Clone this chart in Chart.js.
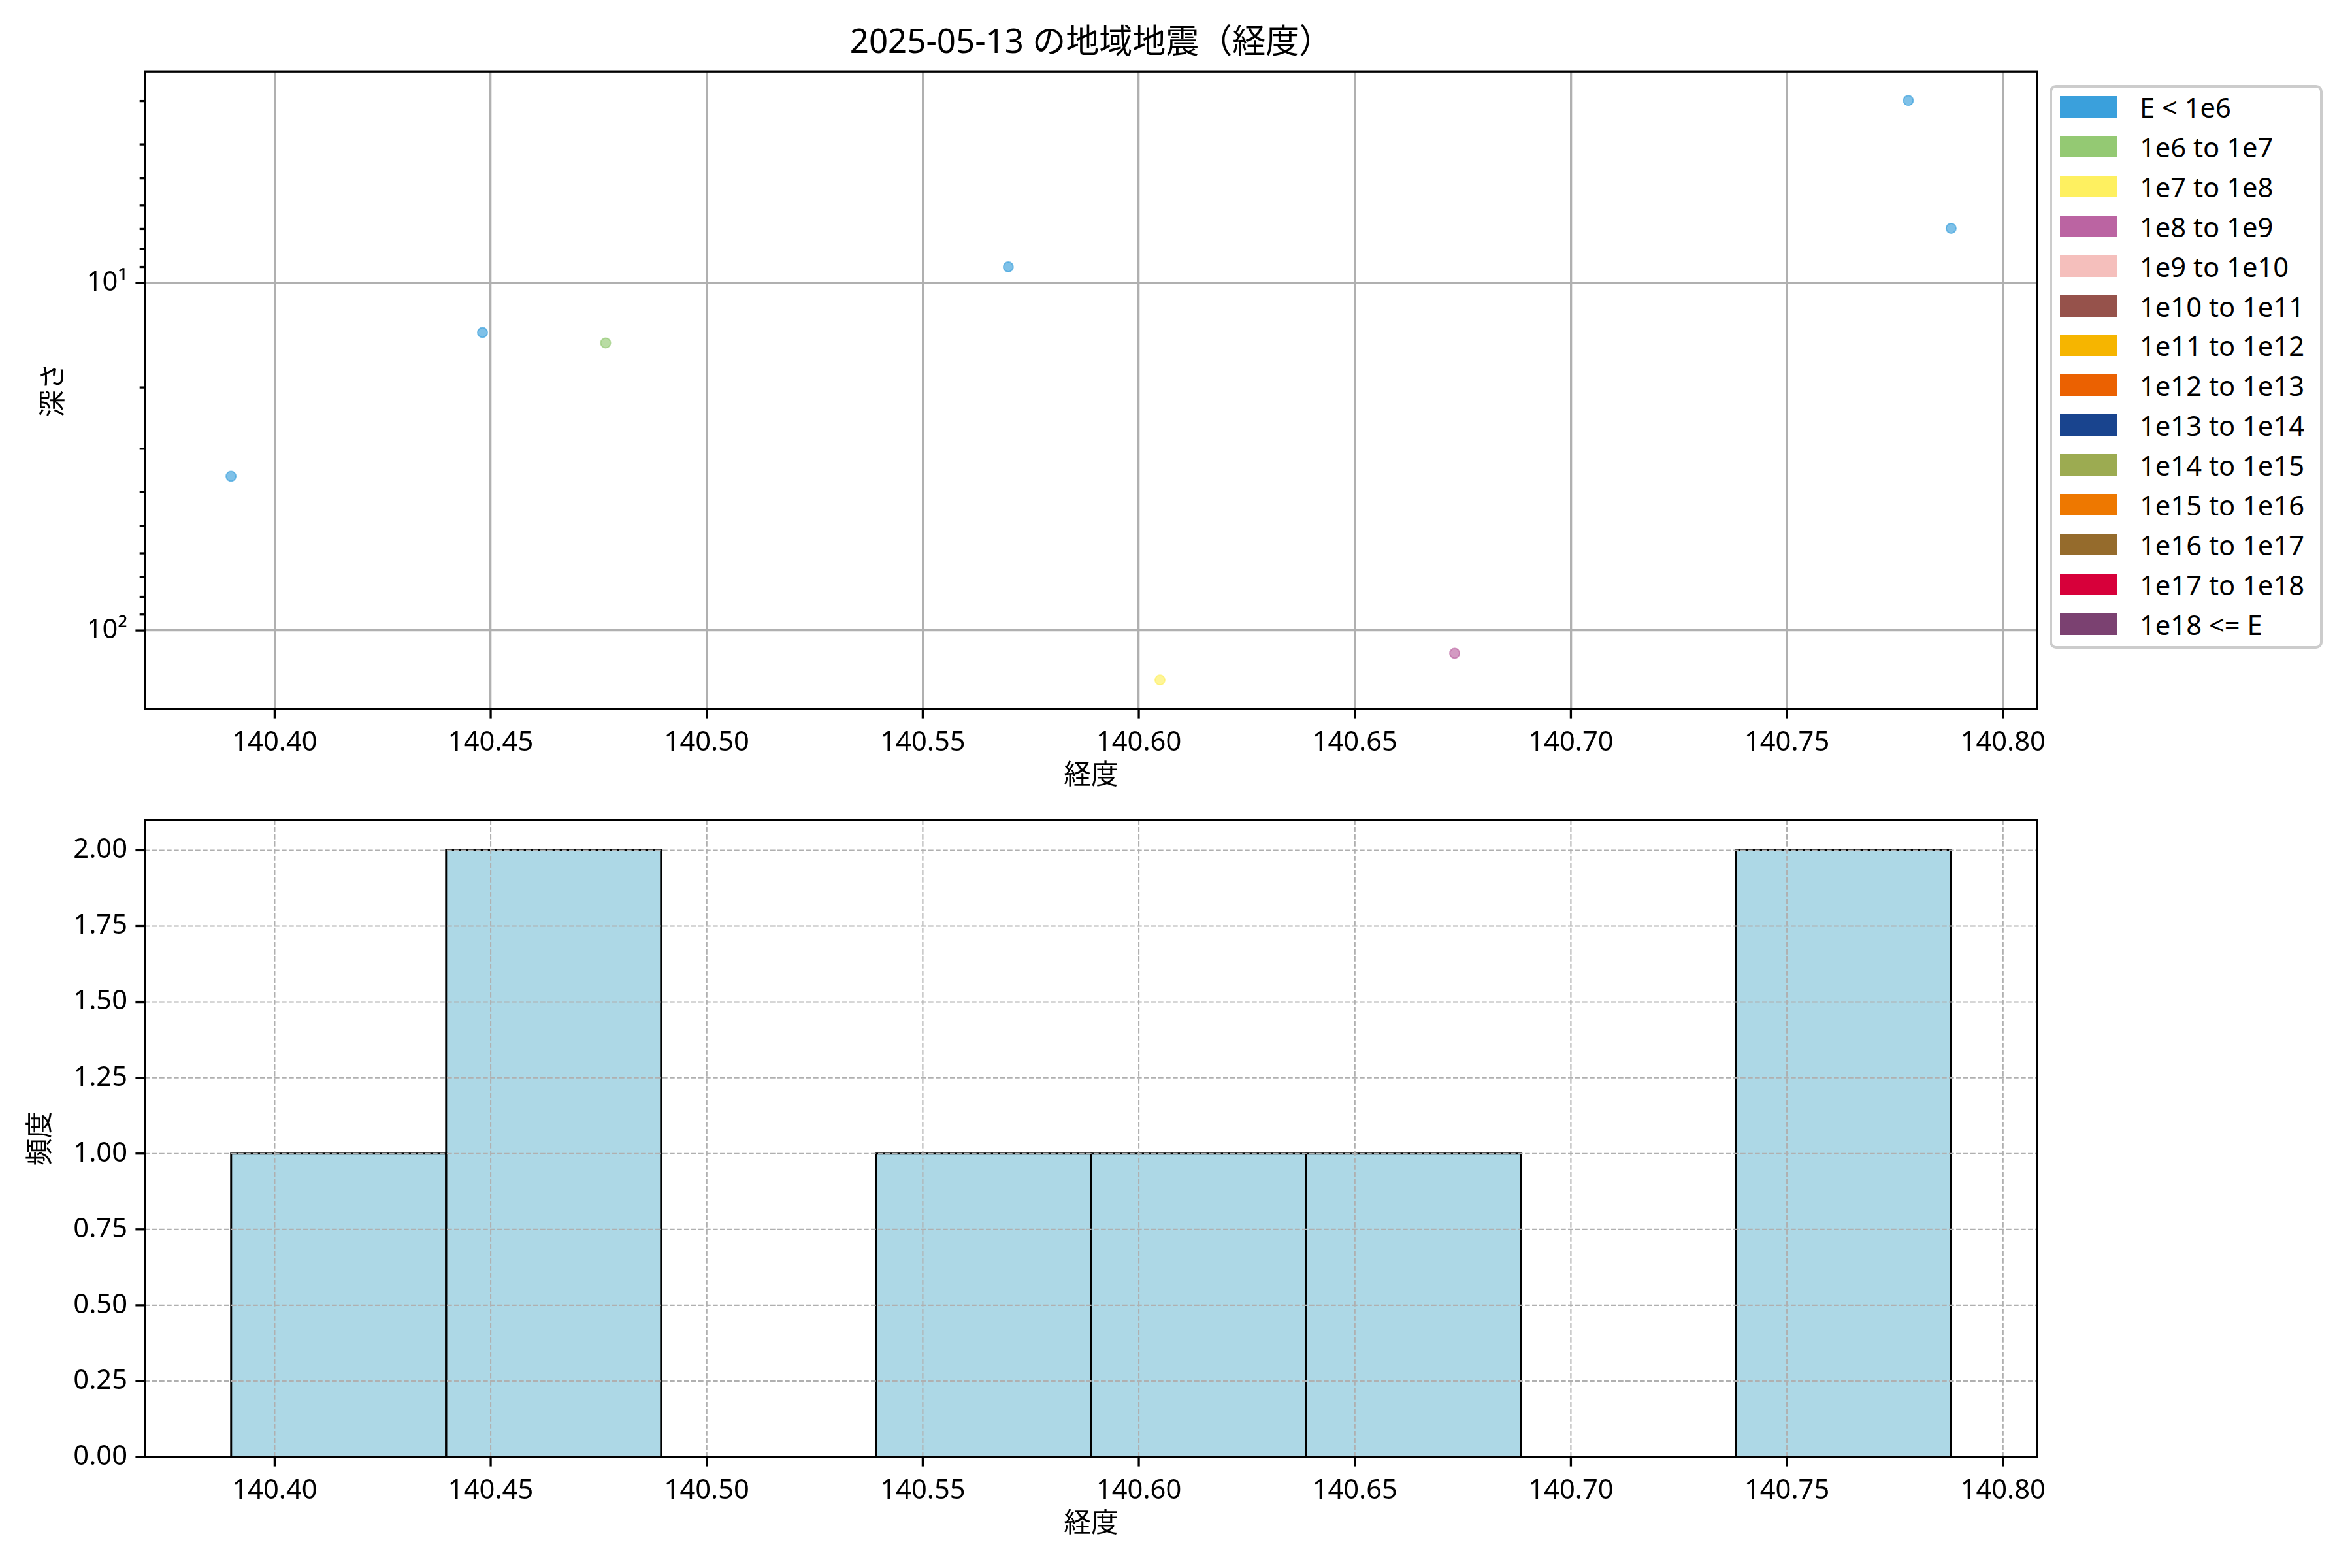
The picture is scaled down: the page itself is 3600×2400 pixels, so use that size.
<!DOCTYPE html>
<html><head><meta charset="utf-8">
<script src="https://cdn.jsdelivr.net/npm/chart.js@4/dist/chart.umd.min.js"></script>
<style>
html,body{margin:0;padding:0;background:#fff;}
body{width:3600px;height:2400px;position:relative;overflow:hidden;font-family:"Noto Sans","Noto Sans CJK JP",sans-serif;}
canvas{position:absolute;left:0;}
#c1{top:0;}
#c2{top:1200px;}
#legend{position:absolute;left:3137px;top:130px;width:418px;height:863px;border:4px solid #cccccc;border-radius:10px;box-sizing:border-box;background:#fff;z-index:5;}
.patch{position:absolute;left:12px;width:87px;height:33px;}
.lab{position:absolute;left:134px;height:33px;line-height:33px;font-size:41.7px;color:#000;white-space:nowrap;}
</style>
</head><body>
<canvas id="c1" width="3600" height="1255"></canvas>
<canvas id="c2" width="3600" height="1200"></canvas>
<div id="legend"></div>
<script>
// ---- data ----
const titleText = '2025-05-13 の地域地震（経度）';
const lon = [140.3899, 140.4481, 140.4766, 140.5698, 140.6049, 140.6731, 140.7781, 140.7880];
const depth = [36.0, 13.9, 14.9, 9.0, 138.7, 116.3, 2.99, 6.97];
const energyClass = [0, 0, 1, 0, 2, 3, 0, 0];
const classLabels = ['E < 1e6','1e6 to 1e7','1e7 to 1e8','1e8 to 1e9','1e9 to 1e10','1e10 to 1e11','1e11 to 1e12','1e12 to 1e13','1e13 to 1e14','1e14 to 1e15','1e15 to 1e16','1e16 to 1e17','1e17 to 1e18','1e18 <= E'];
const classColors = ['#3aa0dc','#94c973','#fef060','#bb64a2','#f5bfbc','#96524b','#f6b500','#eb6101','#19448e','#9cab51','#ee7800','#956b2c','#d7003a','#7b4171'];
const binEdges = [140.3899, 140.4397, 140.4894, 140.5392, 140.5890, 140.6387, 140.6885, 140.7382, 140.7880];
const binCounts = [1, 2, 0, 1, 1, 1, 0, 2];
const xTicks = [140.40, 140.45, 140.50, 140.55, 140.60, 140.65, 140.70, 140.75, 140.80];
const depthMajorTicks = [10, 100];
const depthMinorTicks = [3, 4, 5, 6, 7, 8, 9, 20, 30, 40, 50, 60, 70, 80, 90];
const freqTicks = [0, 0.25, 0.5, 0.75, 1.0, 1.25, 1.5, 1.75, 2.0];
const xLabel = '経度', depthLabel = '深さ', freqLabel = '頻度';
const xRange = [140.3700, 140.8079];
const depthRange = [2.465, 168.0];
const freqRange = [0, 2.1];

// ---- style ----
const FONT = '"Noto Sans", "Noto Sans CJK JP", sans-serif';
const FS = 41.7;
Chart.defaults.color = '#000';
Chart.defaults.font.family = FONT;
Chart.defaults.font.size = FS;
const TICK_MAJOR = 14.6, TICK_MINOR = 8.3, LW = 3.3;

function rgba(hex, a) {
  const n = parseInt(hex.slice(1), 16);
  return `rgba(${(n>>16)&255},${(n>>8)&255},${n&255},${a})`;
}

function makeDecor(isHist) {
  return {
    id: 'decor',
    afterDatasetsDraw(chart) {
      const ctx = chart.ctx, a = chart.chartArea;
      const xs = chart.scales.x, ys = chart.scales.y;
      ctx.save();
      if (isHist) {
        // bar edges, centred on the bin boundaries
        ctx.strokeStyle = '#000';
        ctx.lineWidth = 3;
        chart.getDatasetMeta(0).data.forEach(el => {
          const p = el.getProps(['x', 'y', 'base', 'width'], true);
          const l = p.x - p.width / 2, r = p.x + p.width / 2;
          ctx.strokeRect(l, Math.min(p.y, p.base), r - l, Math.abs(p.base - p.y));
        });
        // dashed grid drawn above the bars
        ctx.strokeStyle = '#b0b0b0';
        ctx.lineWidth = 2.1;
        ctx.setLineDash([7.7, 3.3]);
        xs.ticks.forEach(t => {
          const px = xs.getPixelForValue(t.value);
          ctx.beginPath(); ctx.moveTo(px, a.top); ctx.lineTo(px, a.bottom); ctx.stroke();
        });
        ys.ticks.forEach(t => {
          const py = ys.getPixelForValue(t.value);
          ctx.beginPath(); ctx.moveTo(a.left, py); ctx.lineTo(a.right, py); ctx.stroke();
        });
        ctx.setLineDash([]);
      }
      ctx.strokeStyle = '#000';
      ctx.lineWidth = LW;
      ctx.strokeRect(a.left, a.top, a.right - a.left, a.bottom - a.top);
      xs.ticks.forEach(t => {
        const px = xs.getPixelForValue(t.value);
        ctx.beginPath(); ctx.moveTo(px, a.bottom); ctx.lineTo(px, a.bottom + TICK_MAJOR); ctx.stroke();
      });
      ys.ticks.forEach(t => {
        const py = ys.getPixelForValue(t.value);
        const len = (t.minor ? TICK_MINOR : TICK_MAJOR);
        ctx.beginPath(); ctx.moveTo(a.left - len, py); ctx.lineTo(a.left, py); ctx.stroke();
      });
      ctx.restore();
    }
  };
}

const xScaleCommon = {
  type: 'linear',
  min: xRange[0], max: xRange[1],
  afterBuildTicks: s => { s.ticks = xTicks.map(v => ({value: v})); },
  afterFit: s => { s.height = 170; },
  ticks: { autoSkip: false, maxRotation: 0, padding: 27, callback: v => v.toFixed(2), font: {size: FS} },
  border: { display: false },
  title: { display: true, text: xLabel, font: {size: FS}, padding: {top: 0, bottom: 42} }
};

// ---- chart 1: scatter ----
const scatterSets = classLabels.map((lab, ci) => ({
  label: lab,
  data: lon.map((x, i) => ({x: x, y: depth[i], c: energyClass[i]})).filter(p => p.c === ci),
  backgroundColor: rgba(classColors[ci], 0.65),
  borderColor: rgba(classColors[ci], 0.65),
  borderWidth: 2,
  pointRadius: 7.5,
  pointHoverRadius: 7.5
}));

new Chart(document.getElementById('c1'), {
  type: 'scatter',
  data: { datasets: scatterSets },
  options: {
    responsive: false, animation: false, devicePixelRatio: 1,
    layout: { padding: { left: 0, right: 482, top: 0, bottom: 0 } },
    plugins: {
      legend: { display: false }, tooltip: { enabled: false },
      title: { display: true, text: titleText, fullSize: false, font: {size: 51, weight: 'normal'}, padding: {top: 36, bottom: 12}, color: '#000' }
    },
    scales: {
      x: Object.assign({}, xScaleCommon, {
        grid: { display: true, drawTicks: false, color: '#b0b0b0', lineWidth: LW }
      }),
      y: {
        type: 'logarithmic', reverse: true,
        min: depthRange[0], max: depthRange[1],
        afterBuildTicks: s => {
          const t = depthMajorTicks.map(v => ({value: v, major: true}))
            .concat(depthMinorTicks.map(v => ({value: v, minor: true})));
          t.sort((a, b) => a.value - b.value);
          s.ticks = t;
        },
        afterFit: s => { s.width = 222; },
        ticks: { autoSkip: false, padding: 27, font: {size: FS},
          callback: v => v === 10 ? '10¹' : (v === 100 ? '10²' : '') },
        grid: { display: true, drawTicks: false, lineWidth: LW,
          color: c => (c.tick && depthMajorTicks.includes(c.tick.value)) ? '#b0b0b0' : 'rgba(0,0,0,0)' },
        border: { display: false },
        title: { display: true, text: depthLabel, font: {size: FS}, padding: {top: 58, bottom: 0} }
      }
    }
  },
  plugins: [makeDecor(false)]
});

// ---- chart 2: histogram ----
const binCenters = binCounts.map((c, i) => (binEdges[i] + binEdges[i + 1]) / 2);
new Chart(document.getElementById('c2'), {
  type: 'bar',
  data: { datasets: [{
    label: freqLabel,
    data: binCounts.map((c, i) => ({x: binCenters[i], y: c})),
    backgroundColor: '#add8e6',
    borderWidth: 0,
    barPercentage: 1.0,
    categoryPercentage: 1.0
  }]},
  options: {
    responsive: false, animation: false, devicePixelRatio: 1,
    layout: { padding: { left: 0, right: 482, top: 55, bottom: 0 } },
    plugins: { legend: { display: false }, tooltip: { enabled: false }, title: { display: false } },
    scales: {
      x: Object.assign({}, xScaleCommon, { offset: false, grid: { display: false, drawTicks: false } }),
      y: {
        type: 'linear', min: freqRange[0], max: freqRange[1],
        afterBuildTicks: s => { s.ticks = freqTicks.map(v => ({value: v})); },
        afterFit: s => { s.width = 222; },
        ticks: { autoSkip: false, padding: 27, font: {size: FS}, callback: v => v.toFixed(2) },
        grid: { display: false, drawTicks: false },
        border: { display: false },
        title: { display: true, text: freqLabel, font: {size: FS}, padding: {top: 38, bottom: 0} }
      }
    }
  },
  plugins: [makeDecor(true)]
});

// ---- legend ----
const lg = document.getElementById('legend');
classLabels.forEach((lab, i) => {
  const top = 13 + i * 60.9;
  const p = document.createElement('div');
  p.className = 'patch'; p.style.top = top + 'px'; p.style.background = classColors[i];
  const t = document.createElement('div');
  t.className = 'lab'; t.style.top = top + 'px'; t.textContent = lab;
  lg.appendChild(p); lg.appendChild(t);
});
</script>
</body></html>
